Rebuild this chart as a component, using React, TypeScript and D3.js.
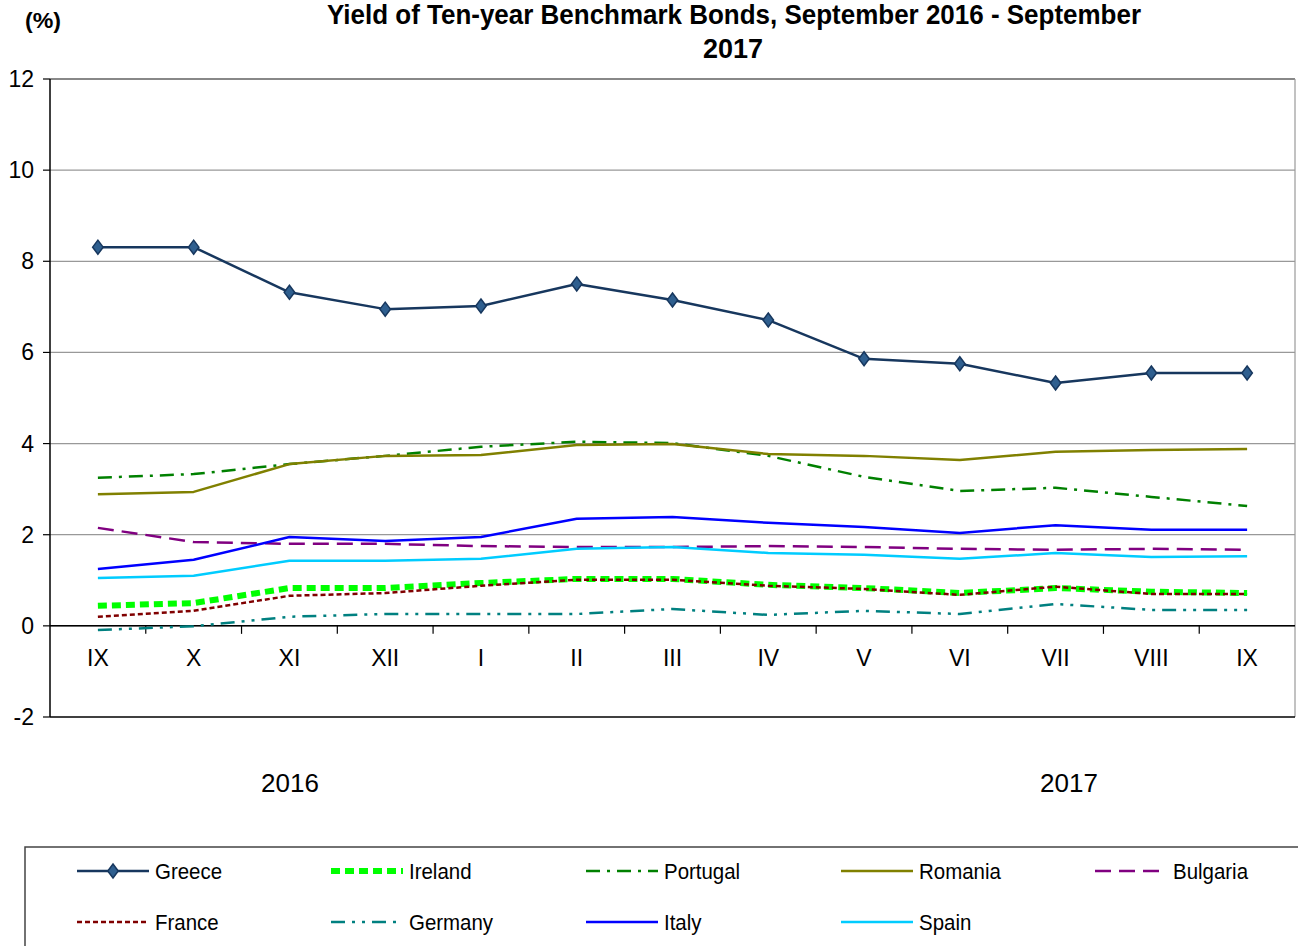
import React from "react";
import * as d3 from "d3";

const months = ["IX", "X", "XI", "XII", "I", "II", "III", "IV", "V", "VI", "VII", "VIII", "IX"];
const yTicks = [-2, 0, 2, 4, 6, 8, 10, 12];

const greece = [8.31, 8.31, 7.32, 6.95, 7.02, 7.5, 7.15, 6.71, 5.86, 5.75, 5.33, 5.55, 5.55];
const ireland = [0.44, 0.5, 0.83, 0.83, 0.94, 1.03, 1.03, 0.9, 0.83, 0.72, 0.83, 0.75, 0.72];
const portugal = [3.25, 3.33, 3.55, 3.73, 3.93, 4.04, 4.01, 3.73, 3.27, 2.96, 3.03, 2.83, 2.63];
const romania = [2.89, 2.94, 3.55, 3.73, 3.75, 3.97, 3.99, 3.77, 3.73, 3.64, 3.82, 3.86, 3.88];
const bulgaria = [2.15, 1.84, 1.8, 1.8, 1.75, 1.73, 1.73, 1.75, 1.73, 1.69, 1.67, 1.69, 1.67];
const france = [0.2, 0.33, 0.66, 0.72, 0.88, 1.01, 1.01, 0.88, 0.81, 0.68, 0.86, 0.7, 0.7];
const germany = [-0.09, -0.01, 0.2, 0.26, 0.26, 0.26, 0.37, 0.24, 0.33, 0.26, 0.48, 0.35, 0.35];
const italy = [1.25, 1.45, 1.95, 1.86, 1.95, 2.35, 2.39, 2.26, 2.17, 2.04, 2.21, 2.11, 2.11];
const spain = [1.05, 1.1, 1.43, 1.43, 1.47, 1.69, 1.73, 1.6, 1.56, 1.47, 1.6, 1.51, 1.53];

type S = { name: string; values: number[]; color: string; width: number; dash?: string; marker?: boolean };

const series: S[] = [
  { name: "Greece", values: greece, color: "#17375E", width: 2.5, marker: true },
  { name: "Ireland", values: ireland, color: "#00FF00", width: 6, dash: "9 5" },
  { name: "Portugal", values: portugal, color: "#008000", width: 2.5, dash: "14 7 3 7" },
  { name: "Romania", values: romania, color: "#808000", width: 2.5 },
  { name: "Bulgaria", values: bulgaria, color: "#800080", width: 2.5, dash: "16 8" },
  { name: "France", values: france, color: "#800000", width: 2.5, dash: "5 3" },
  { name: "Germany", values: germany, color: "#008080", width: 2.5, dash: "14 7 3 7 3 7" },
  { name: "Italy", values: italy, color: "#0000FF", width: 2.5 },
  { name: "Spain", values: spain, color: "#00CCFF", width: 2.5 },
];

const FONT = "'Liberation Sans Narrow', 'Arial Narrow', 'Liberation Sans', Arial, sans-serif";

export default function App() {
  const W = 1298, H = 946;
  const left = 50, right = 1295, top = 79, bottom = 717;
  const x = d3.scaleBand<number>().domain(months.map((_, i) => i)).range([left, right]).padding(0);
  const cx = (i: number) => (x(i) as number) + x.bandwidth() / 2;
  const y = d3.scaleLinear().domain([-2, 12]).range([bottom, top]);
  const line = d3.line<number>().x((_, i) => cx(i)).y((d) => y(d));

  const legendCols = [77, 331, 586, 841, 1095];
  const legendRows = [871, 922];

  const diamond = (px: number, py: number, r: number) =>
    `M${px},${py - r}L${px + r * 0.75},${py}L${px},${py + r}L${px - r * 0.75},${py}Z`;

  return (
    <svg width={W} height={H} style={{ position: "absolute", left: 0, top: 0, background: "#fff" }} fontFamily={FONT}>
      <rect x={0} y={0} width={W} height={H} fill="#fff" />
      <text x={43} y={28} textAnchor="middle" fontSize={22} fontWeight="bold" textLength={36} lengthAdjust="spacingAndGlyphs">(%)</text>
      <text x={327} y={24} fontSize={27} fontWeight="bold" textLength={814} lengthAdjust="spacingAndGlyphs">Yield of  Ten-year Benchmark Bonds, September 2016 - September</text>
      <text x={733} y={58} textAnchor="middle" fontSize={27} fontWeight="bold">2017</text>

      {yTicks.filter((t) => t > -2).map((t) => (
        <line key={t} x1={left} x2={right} y1={y(t)} y2={y(t)} stroke={t === 12 ? "#888" : "#999"} strokeWidth={t === 12 ? 2 : 1.2} />
      ))}
      <line x1={right} x2={right} y1={top} y2={bottom} stroke="#999" strokeWidth={1.2} />
      <line x1={left} x2={right} y1={bottom} y2={bottom} stroke="#000" strokeWidth={1.5} />
      <line x1={left} x2={left} y1={top} y2={bottom} stroke="#000" strokeWidth={1.5} />
      {yTicks.map((t) => (
        <g key={t}>
          <line x1={left - 7} x2={left} y1={y(t)} y2={y(t)} stroke="#000" strokeWidth={1.2} />
          <text x={34} y={y(t) + 8} textAnchor="end" fontSize={23}>{t}</text>
        </g>
      ))}
      <line x1={left} x2={right} y1={y(0)} y2={y(0)} stroke="#000" strokeWidth={1.5} />
      {months.map((m, i) => (
        <g key={i}>
          {i > 0 && <line x1={x(i) as number} x2={x(i) as number} y1={y(0)} y2={y(0) + 8} stroke="#000" strokeWidth={1.2} />}
          <text x={cx(i)} y={y(0) + 40} textAnchor="middle" fontSize={23}>{m}</text>
        </g>
      ))}

      {series.map((s) => (
        <path key={s.name} d={line(s.values) as string} fill="none" stroke={s.color} strokeWidth={s.width}
          strokeDasharray={s.dash} strokeLinejoin="round" />
      ))}
      {greece.map((v, i) => (
        <path key={i} d={diamond(cx(i), y(v), 7)} fill="#2F5F8F" stroke="#17375E" strokeWidth={1.5} />
      ))}

      <text x={290} y={792} textAnchor="middle" fontSize={26}>2016</text>
      <text x={1069} y={792} textAnchor="middle" fontSize={26}>2017</text>

      <rect x={25} y={847} width={1290} height={120} fill="#fff" stroke="#444" strokeWidth={1.5} />
      {series.map((s, i) => {
        const col = i % 5, row = Math.floor(i / 5);
        const lx = legendCols[col], ly = legendRows[row];
        return (
          <g key={s.name}>
            <line x1={lx} x2={lx + 72} y1={ly} y2={ly} stroke={s.color} strokeWidth={s.width}
              strokeDasharray={s.dash} />
            {s.marker && <path d={diamond(lx + 36, ly, 7)} fill="#2F5F8F" stroke="#17375E" strokeWidth={1.5} />}
            <text x={lx + 78} y={ly + 8} fontSize={22} transform={`translate(${lx + 78},0) scale(0.93,1) translate(${-(lx + 78)},0)`}>{s.name}</text>
          </g>
        );
      })}
    </svg>
  );
}
